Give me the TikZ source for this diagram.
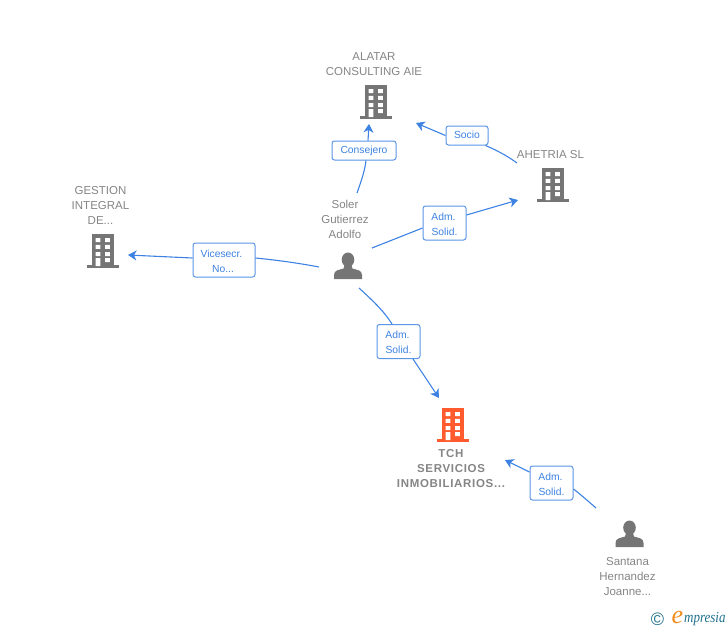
\documentclass[tikz,border=0pt]{standalone}
\usepackage{fontspec}
\setmainfont{Liberation Sans}
\newfontfamily\logofont{Liberation Serif}
\newfontfamily\tchfont[LetterSpace=6]{Liberation Sans Bold}
\usetikzlibrary{arrows.meta}
\definecolor{iconGray}{HTML}{757575}
\definecolor{txtGray}{HTML}{858585}
\definecolor{linkBlue}{HTML}{3D82E2}
\definecolor{tchOrange}{HTML}{FF5B2E}
\definecolor{logoTeal}{HTML}{1F6F8B}
\definecolor{logoOrange}{HTML}{F28C1E}
\newcommand{\lift}{\rule{0pt}{9.4pt}}
\tikzset{
  x=1pt,y=-1pt,
  caption/.style={font=\fontsize{11.5}{15}\selectfont,text=txtGray,align=center,inner sep=0pt},
  role/.style={draw=linkBlue!85!white,line width=1pt,rounded corners=2.5pt,fill=white,
    text=linkBlue,font=\fontsize{10.3}{15}\selectfont,align=center,inner sep=0pt},
  conn/.style={draw=linkBlue,line width=1.1pt},
  tip/.style={conn,-{Stealth[length=8.5pt,width=10pt,inset=2.5pt]}},
  pics/building/.style={code={
    \fill[#1] (-11,0) rectangle (11,32);
    \fill[#1] (-16,31.2) rectangle (16,33.8);
    \fill[white]
      (-7.3,4) rectangle (-2.6,8) (2,4) rectangle (6.8,8)
      (-7.3,10.8) rectangle (-2.6,14.8) (2,10.8) rectangle (6.8,14.8)
      (-7.3,18) rectangle (-2.6,22) (2,18) rectangle (6.8,22)
      (-7.3,24) rectangle (-2.6,32) (2,24) rectangle (6.8,28);
  }},
  pics/person/.style={code={
    \fill[iconGray] (0,-0.3) ellipse (6.3 and 7.2);
    \fill[iconGray] (-3.6,5) -- (3.6,5) -- (4.4,8.5) .. controls (9,10) and (14,10) .. (14,15)
      -- (14,19) -- (-14,19) -- (-14,15) .. controls (-14,10) and (-9,10) .. (-4.4,8.5) -- cycle;
  }}
}
\begin{document}
\begin{tikzpicture}
\useasboundingbox (0,0) rectangle (728,630);
% icons
\pic at (376,85) {building=iconGray};
\pic at (553,168) {building=iconGray};
\pic at (103,234) {building=iconGray};
\pic at (453,408) {building=tchOrange};
\pic at (348,260) {person};
\pic at (629.5,528) {person};
% captions
\node[caption] (alatar) at (374,64) {ALATAR\\CONSULTING AIE};
\node[caption] (ahetria) at (550.5,154.5) {AHETRIA SL};
\node[caption] (gestion) at (100.5,205.5) {GESTION\\INTEGRAL\\DE...};
\node[caption] (soler) at (345,219.5) {Soler\\Gutierrez\\Adolfo};
\node[caption,font=\fontsize{11.5}{15}\selectfont\tchfont] (tch) at (451,469) {TCH\\SERVICIOS\\INMOBILIARIOS...};
\node[caption] (santana) at (627.5,577) {Santana\\Hernandez\\Joanne...};
% role labels
\node[role,minimum width=64pt,minimum height=19pt,text height=7.5pt,text depth=2.5pt] (consejero) at (364,150.5) {Consejero};
\node[role,minimum width=42pt,minimum height=19pt,text height=7.5pt,text depth=2.5pt] (socio) at (467,135.5) {Socio};
\node[role,minimum width=43pt,minimum height=34pt] (adm1) at (444.5,223) {\lift Adm.\kern2pt\\Solid.};
\node[role,minimum width=62pt,minimum height=34pt] (vice) at (224,260) {\lift Vicesecr.\kern5pt\\No...\kern2pt};
\node[role,minimum width=43pt,minimum height=34pt] (adm2) at (398.5,341.5) {\lift Adm.\kern2pt\\Solid.};
\node[role,minimum width=43pt,minimum height=34pt] (adm3) at (551.5,483) {\lift Adm.\kern2pt\\Solid.};
% connector ends
\coordinate (s1) at (357,193);  \coordinate (e1) at (369,124);
\coordinate (s2) at (517,163);  \coordinate (e2) at (416,123);
\coordinate (s3) at (372,248);  \coordinate (e3) at (518,200);
\coordinate (s4) at (319,267);  \coordinate (e4) at (128,255);
\coordinate (s5) at (359,288);  \coordinate (e5) at (439,398);
\coordinate (s6) at (596,508);  \coordinate (e6) at (505,460);
% connectors
\draw[conn] (s1) .. controls (361,182) and (365,170) .. ([xshift=2pt]consejero.south);
\draw[tip] ([xshift=4pt]consejero.north) -- (e1);
\draw[conn] (s2) .. controls (506,155) and (496,150) .. ([xshift=-3pt]socio.south east);
\draw[tip] (socio.west) -- (e2);
\draw[conn] (s3) -- ([yshift=-5pt]adm1.west);
\draw[tip] ([yshift=8pt]adm1.east) -- (e3);
\draw[conn] (s4) .. controls (298,263) and (276,260) .. ([yshift=2pt]vice.east);
\draw[tip] ([yshift=2pt]vice.west) -- (e4);
\draw[conn] (s5) .. controls (371,299) and (384,311) .. ([xshift=-6.5pt]adm2.north);
\draw[tip] ([xshift=14.5pt]adm2.south) -- (e5);
\draw[conn] (s6) .. controls (588,501) and (580,494) .. ([yshift=-6pt]adm3.east);
\draw[tip] ([yshift=11pt]adm3.west) -- (e6);
% logo
\node[inner sep=0pt,text=logoTeal,font=\fontsize{18}{18}\selectfont] (copy) at (657.5,619) {©};
\node[inner sep=0pt,text=logoOrange,font=\logofont\itshape\fontsize{26}{26}\selectfont] (logoe) at (677.5,617) {e};
\node[inner sep=0pt,anchor=west,xscale=.85,text=logoTeal,font=\logofont\itshape\fontsize{15.3}{15.3}\selectfont] (logot) at (684,619) {mpresia};
\end{tikzpicture}
\end{document}
